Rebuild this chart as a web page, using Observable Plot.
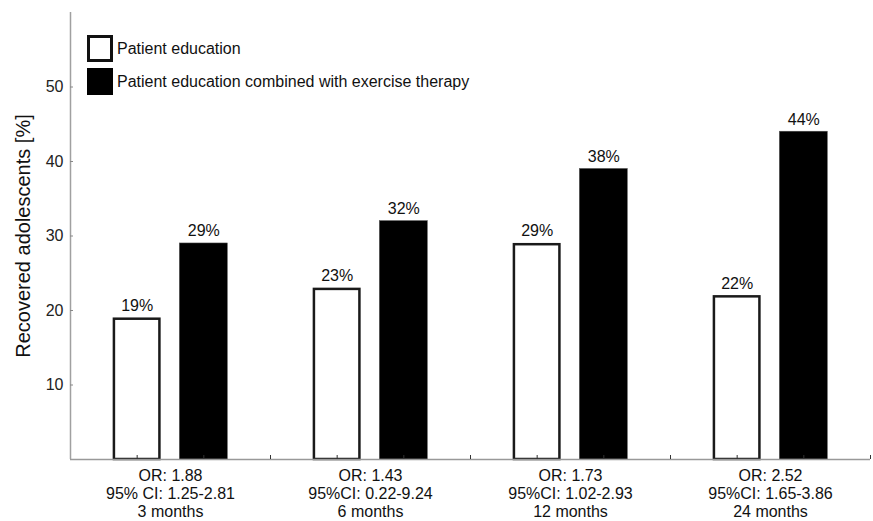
<!DOCTYPE html>
<html>
<head>
<meta charset="utf-8">
<script src="https://cdn.jsdelivr.net/npm/d3@7"></script>
<script src="https://cdn.jsdelivr.net/npm/@observablehq/plot@0.6"></script>
<style>
  html, body { margin: 0; padding: 0; background: #fff; overflow: hidden; }
  #wrap { position: relative; width: 873px; height: 521px; font-family: "Liberation Sans", Arial, sans-serif; }
  #wrap svg { display: block; }
  #legend { position: absolute; left: 87px; top: 35px; font-size: 16px; color: #111; }
  .row { display: flex; align-items: center; height: 27px; margin-bottom: 6px; }
  .box { width: 26px; height: 27px; box-sizing: border-box; margin-right: 4px; }
  .white { border: 3px solid #111; background: #fff; }
  .black { background: #000; }
</style>
</head>
<body>
<div id="wrap"></div>
<script>
const periods = ["3 months", "6 months", "12 months", "24 months"];
const orLabels = ["OR: 1.88", "OR: 1.43", "OR: 1.73", "OR: 2.52"];
const ciLabels = ["95% CI: 1.25-2.81", "95%CI: 0.22-9.24", "95%CI: 1.02-2.93", "95%CI: 1.65-3.86"];
const seriesNames = ["Patient education", "Patient education combined with exercise therapy"];
const educationValues = [19, 23, 29, 22];
const combinedValues = [29, 32, 39, 44];
const educationLabels = ["19%", "23%", "29%", "22%"];
const combinedLabels = ["29%", "32%", "38%", "44%"];
const yTicks = [10, 20, 30, 40, 50];
const yTitle = "Recovered adolescents [%]";

// slot positions: each period occupies 3 slots, bars at slot 1 and 2
const bars = [];
periods.forEach((p, i) => {
  bars.push({period: p, series: seriesNames[0], slot: i * 3 + 1, value: educationValues[i], label: educationLabels[i]});
  bars.push({period: p, series: seriesNames[1], slot: i * 3 + 2, value: combinedValues[i], label: combinedLabels[i]});
});
const groups = periods.map((p, i) => ({center: i * 3 + 1.5, text: `${orLabels[i]}\n${ciLabels[i]}\n${p}`}));
const half = 0.36;

const chart = Plot.plot({
  width: 873,
  height: 521,
  marginLeft: 70,
  marginRight: 3,
  marginTop: 12,
  marginBottom: 62,
  style: {fontFamily: "'Liberation Sans', Arial, sans-serif", background: "#fff"},
  x: {domain: [0, periods.length * 3], axis: null},
  y: {domain: [0, 60], axis: null},
  marks: [
    Plot.rectY(bars.filter(d => d.series === seriesNames[1]), {
      x1: d => d.slot - half, x2: d => d.slot + half, y1: 0, y2: "value",
      fill: "#000", stroke: "#555", strokeWidth: 0.5
    }),
    Plot.rectY(bars.filter(d => d.series === seriesNames[0]), {
      x1: d => d.slot - half, x2: d => d.slot + half, y1: 0, y2: "value",
      fill: "#fff", stroke: "#1a1a1a", strokeWidth: 2.5, inset: 1.25, insetBottom: 0
    }),
    Plot.ruleY([0], {stroke: "#999", strokeWidth: 1.5}),
    Plot.ruleX([0], {stroke: "#a0a0a0", strokeWidth: 1.5}),
    Plot.axisX({ticks: d3.range(1, periods.length * 3 + 1), tickSize: -4, text: null, stroke: "#333", label: null}),
    Plot.axisY({ticks: yTicks, tickSize: -3, tickPadding: 10, fontSize: 16, fill: "#222", stroke: "#888", label: null}),
    Plot.text(bars, {x: "slot", y: "value", text: "label", dy: -7, lineAnchor: "bottom", fontSize: 16, fill: "#111"}),
    Plot.text(groups, {x: "center", y: 0, text: "text", dy: 8, lineAnchor: "top", lineHeight: 1.15, fontSize: 16, fill: "#111"}),
    Plot.text([yTitle], {frameAnchor: "left", dx: -47, rotate: -90, textAnchor: "middle", fontSize: 20, fill: "#111"})
  ]
});

const wrap = document.getElementById("wrap");
wrap.appendChild(chart);
const legend = document.createElement("div");
legend.id = "legend";
seriesNames.forEach((name, i) => {
  const row = document.createElement("div");
  row.className = "row";
  const box = document.createElement("div");
  box.className = "box " + (i === 0 ? "white" : "black");
  const label = document.createElement("span");
  label.textContent = name;
  row.appendChild(box);
  row.appendChild(label);
  legend.appendChild(row);
});
wrap.appendChild(legend);
</script>
</body>
</html>
